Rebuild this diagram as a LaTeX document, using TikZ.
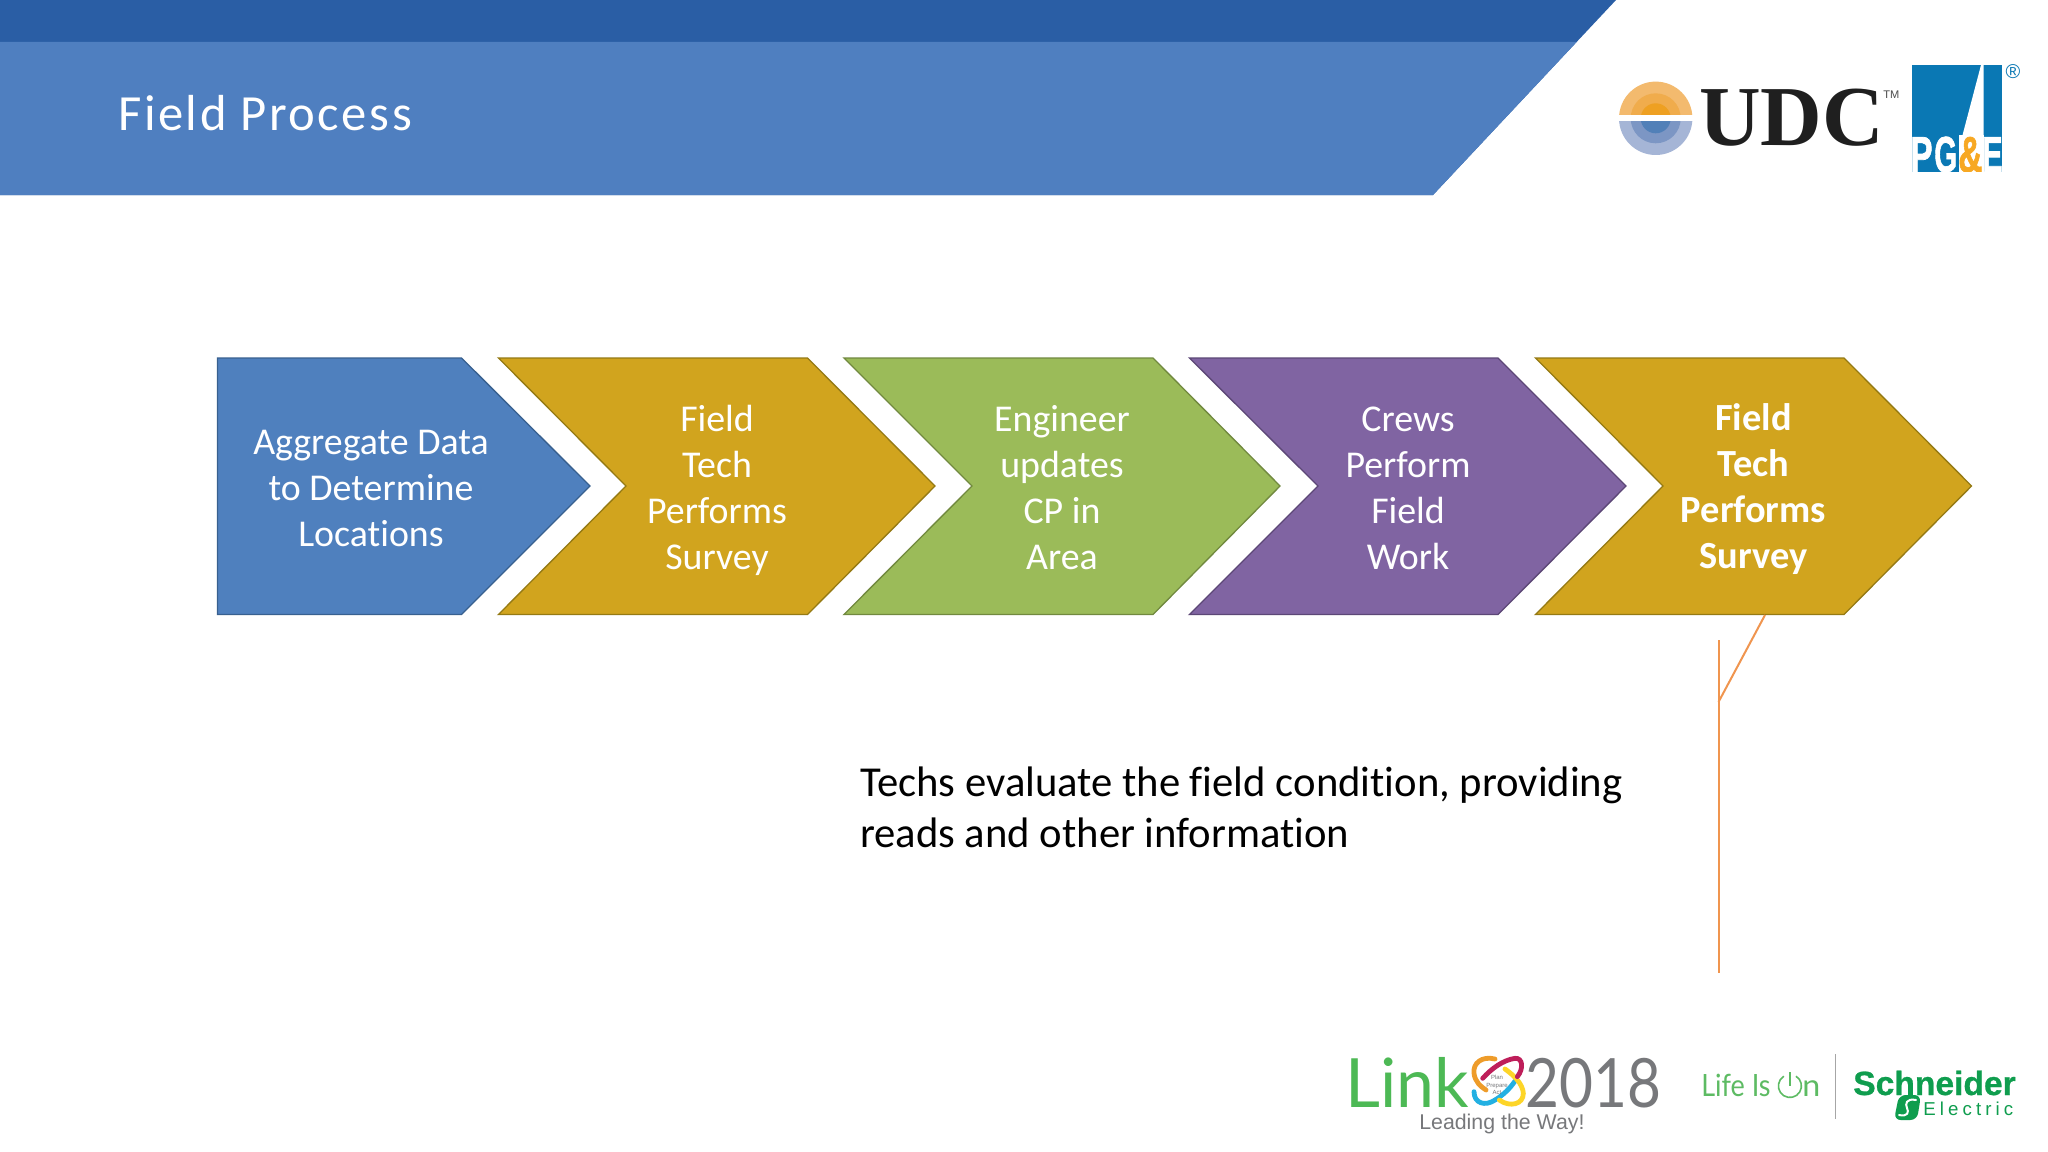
\documentclass[tikz,border=0pt]{standalone}
\usepackage{fontspec}
\setmainfont[Ligatures=NoCommon]{Carlito}
\newfontfamily\titlefont[LetterSpace=5,Ligatures=NoCommon]{Carlito}
\newfontfamily\serifb{Liberation Serif}
\newfontfamily\heros{Liberation Sans}
\newfontfamily\pgefont[BoldFeatures={FakeBold=1.5}]{Liberation Sans}
\newfontfamily\schfont[BoldFeatures={FakeBold=0.8}]{Liberation Sans}
\newfontfamily\lato{Lato}
\newfontfamily\elecfont[LetterSpace=22]{Liberation Sans}
\definecolor{hdark}{HTML}{2A5EA5}
\definecolor{hlight}{HTML}{4F7FC0}
\definecolor{cblue}{HTML}{4F80BE}
\definecolor{cblueb}{HTML}{38608F}
\definecolor{cgold}{HTML}{D1A41E}
\definecolor{cgoldb}{HTML}{957A14}
\definecolor{cgreen}{HTML}{9BBB59}
\definecolor{cgreenb}{HTML}{71893F}
\definecolor{cpurple}{HTML}{8064A2}
\definecolor{cpurpleb}{HTML}{5C4776}
\definecolor{callout}{HTML}{F0954F}
\definecolor{pgeblue}{HTML}{0A78B4}
\definecolor{pgeorange}{HTML}{F7A823}
\definecolor{linkgreen}{HTML}{4DB955}
\definecolor{linkgrey}{HTML}{77787B}
\definecolor{segreen}{HTML}{0F9D4E}
\definecolor{lifegreen}{HTML}{5DBB63}
\tikzset{
  chevtext/.style={text=white,align=center,font=\fontsize{28.4}{34.5}\selectfont,inner sep=0pt},
  chevbold/.style={chevtext,font=\fontsize{28.8}{34.5}\selectfont\bfseries},
  chevshape/.style={line width=1pt,line join=miter},
}
\begin{document}
\begin{tikzpicture}[x=0.75pt,y=-0.75pt]
\useasboundingbox (0,0) rectangle (2048,1152);
\fill[white] (0,0) rectangle (2048,1152);
% header
\fill[hdark] (0,0) -- (1616,0) -- (1433,195) -- (0,195) -- cycle;
\fill[hlight] (0,42) -- (1576.6,42) -- (1433,195) -- (0,195) -- cycle;
\node[anchor=base west,inner sep=0pt,text=white,font=\fontsize{38}{40}\selectfont\titlefont] (title) at (118,131) {Field Process};
% chevrons
\draw[chevshape,fill=cblue,draw=cblueb] (217.5,358) -- (461.5,358) -- (590,486) -- (461.5,614.5) -- (217.5,614.5) -- cycle;
\draw[chevshape,fill=cgold,draw=cgoldb] (498.5,358) -- (807.5,358) -- (935,486) -- (807.5,614.5) -- (498.5,614.5) -- (626,486) -- cycle;
\draw[chevshape,fill=cgreen,draw=cgreenb] (844,358) -- (1153,358) -- (1280,486) -- (1153,614.5) -- (844,614.5) -- (972,486) -- cycle;
\draw[chevshape,fill=cpurple,draw=cpurpleb] (1189.5,358) -- (1498,358) -- (1626,486) -- (1498,614.5) -- (1189.5,614.5) -- (1318,486) -- cycle;
\draw[chevshape,fill=cgold,draw=cgoldb] (1535.5,358) -- (1844,358) -- (1971.5,486) -- (1844,614.5) -- (1535.5,614.5) -- (1663,486) -- cycle;
\node[chevtext] (t1) at (371,488) {Aggregate Data\\to Determine\\Locations};
\node[chevtext] (t2) at (717,490.5) {Field\\Tech\\Performs\\Survey};
\node[chevtext] (t3) at (1062,488) {Engineer\\updates\\CP in\\Area};
\node[chevtext] (t4) at (1408,488) {Crews\\Perform\\Field\\Work};
\node[chevbold] (t5) at (1753.5,489.5) {Field\\Tech\\Performs\\Survey};
% callout
\coordinate (ctop) at (1718.5,640);
\coordinate (cbend) at (1718.5,702);
\coordinate (cbot) at (1718.5,973);
\coordinate (ctip) at (1765,615);
\draw[callout,line width=1.5pt] (ctop) -- (cbot);
\draw[callout,line width=1.5pt] (cbend) -- (ctip);
\node[anchor=base west,inner sep=0pt,font=\fontsize{32}{39}\selectfont,text=black] (body) at (860,796) {Techs evaluate the field condition, providing};
\node[anchor=base west,inner sep=0pt,font=\fontsize{32}{39}\selectfont,text=black] (body2) at (860,847.5) {reads and other information};
% UDC logo
\begin{scope}
\clip (1610,60) rectangle (1700,115);
\fill[color={rgb,255:red,243;green,186;blue,110}] (1655.7,118.3) circle (36.7);
\fill[color={rgb,255:red,240;green,172;blue,76}] (1655.7,118.3) circle (25);
\fill[color={rgb,255:red,238;green,160;blue,34}] (1655.7,118.3) circle (15);
\end{scope}
\begin{scope}
\clip (1610,122) rectangle (1700,170);
\fill[color={rgb,255:red,165;green,181;blue,214}] (1655.7,118.3) circle (36.7);
\fill[color={rgb,255:red,124;green,150;blue,196}] (1655.7,118.3) circle (25);
\fill[color={rgb,255:red,81;green,128;blue,184}] (1655.7,118.3) circle (15);
\end{scope}
\node[anchor=base west,inner sep=0pt,font=\fontsize{64}{66}\selectfont\serifb\bfseries,text=black!88] (udc) at (1699,146) {UDC};
\node[anchor=base west,inner sep=0pt,font=\fontsize{8.3}{9}\selectfont\heros,text=black!70] (tm) at (1883,99) {TM};
% PG&E logo
\fill[pgeblue] (1912,65) rectangle (2002,172);
\fill[white] (1981,65) -- (1983.5,65) -- (1983.5,137) -- (1962,137) -- cycle;
\begin{scope}
\clip (1912,65) rectangle (2002,172);
\fill[white] (1959,135) rectangle (1984,172);
\node[anchor=base west,inner sep=0pt,text=white,font=\fontsize{38}{40}\selectfont\pgefont\bfseries] (pgp) at (1910,172) {\scalebox{0.66}[1]{P}};
\node[anchor=base west,inner sep=0pt,text=white,font=\fontsize{38}{40}\selectfont\pgefont\bfseries] (pgg) at (1934,172) {\scalebox{0.58}[1]{G}};
\node[anchor=base west,inner sep=0pt,text=pgeorange,font=\fontsize{38}{40}\selectfont\pgefont\bfseries] (amp) at (1958,172) {\scalebox{0.66}[1]{\&}};
\node[anchor=base west,inner sep=0pt,text=white,font=\fontsize{38}{40}\selectfont\pgefont\bfseries] (e) at (1982,172) {\scalebox{0.6}[1]{E}};
\end{scope}
\node[inner sep=0pt,text=pgeblue,font=\fontsize{15}{15}\selectfont\heros] (reg) at (2013,72) {®};
% Link 2018
\node[anchor=base west,inner sep=0pt,text depth=0pt,text=linkgreen,font=\fontsize{51}{53}\selectfont\lato] (link) at (1345,1107) {Link};
\node[anchor=base west,inner sep=0pt,text depth=0pt,text=linkgrey,font=\fontsize{51}{53}\selectfont\lato] (yr) at (1525,1107) {\scalebox{0.86}[1]{2018}};
\begin{scope}[shift={(1460,1045)},x=0.25pt,y=-0.25pt,line width=3.6pt,line cap=round]
\draw[color={rgb,255:red,238;green,156;blue,42}] (105,42) .. controls (65,32) and (38,55) .. (42,85) .. controls (45,110) and (62,125) .. (78,135);
\draw[color={rgb,255:red,35;green,176;blue,226}] (42,140) .. controls (42,175) and (75,185) .. (105,165) .. controls (130,150) and (150,130) .. (165,108);
\draw[color={rgb,255:red,253;green,213;blue,40}] (135,72) .. controls (160,90) and (188,115) .. (190,145) .. controls (190,178) and (150,188) .. (118,165);
\draw[color={rgb,255:red,190;green,30;blue,90}] (68,100) .. controls (95,70) and (130,45) .. (165,40) .. controls (188,38) and (192,70) .. (172,95);
\end{scope}
\node[inner sep=0pt,align=center,text=linkgrey,font=\fontsize{4.5}{5.4}\selectfont\heros] (ppa) at (1497,1085) {Plan\\Prepare\\Act};
\node[anchor=base west,inner sep=0pt,text height=11pt,text=linkgrey,font=\fontsize{16}{18}\selectfont\heros] (lead) at (1419,1129) {Leading the Way!};
% Life Is On
\node[anchor=base west,inner sep=0pt,text=lifegreen,font=\fontsize{23}{25}\selectfont\lato] (life) at (1701,1096) {\scalebox{0.88}[1]{Life Is}};
\draw[lifegreen,line width=1.2pt] (1796,1076.2) arc[start angle=-58,end angle=238,radius=11.5];
\draw[lifegreen,line width=1.2pt] (1790,1072) -- (1790,1086);
\node[anchor=base west,inner sep=0pt,text=lifegreen,font=\fontsize{23}{25}\selectfont\lato] (n) at (1802,1096) {\scalebox{1.05}[1]{n}};
\coordinate (diva) at (1835.5,1054);
\coordinate (divb) at (1835.5,1119);
\draw[black!35,line width=0.8pt] (diva) -- (divb);
% Schneider
\node[anchor=base west,inner sep=0pt,text=segreen,font=\fontsize{25.2}{26}\selectfont\schfont\bfseries] (sch) at (1853,1095) {Schneider};
\node[anchor=base west,inner sep=0pt,text=segreen,font=\fontsize{14}{15}\selectfont\elecfont] (ele) at (1923,1115) {Electric};
\fill[segreen,rounded corners=5pt] (1899,1095) -- (1921,1095) -- (1917,1120) -- (1894,1120) -- cycle;
\draw[white,line width=1.5pt,line cap=round] (1916,1100) .. controls (1906,1098) and (1905,1104) .. (1907,1108) .. controls (1909,1112) and (1908,1117) .. (1899,1115);
\end{tikzpicture}
\end{document}
